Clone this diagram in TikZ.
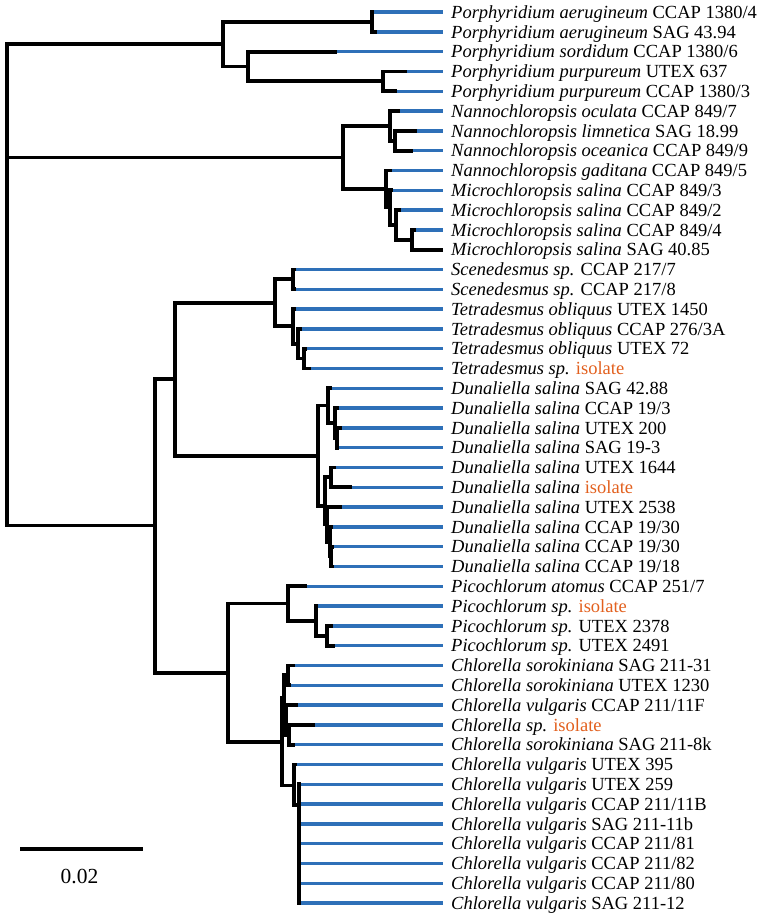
\documentclass[tikz,border=0pt]{standalone}
\usepackage{fontspec}
\setmainfont{Liberation Serif}
\definecolor{tipblue}{RGB}{46,112,184}
\definecolor{isoorange}{RGB}{226,96,30}
\tikzset{
  branch/.style={line width=3.8pt, line join=miter, line cap=butt, black},
  tipline/.style={line width=3.4pt, tipblue, line cap=butt},
  leaflabel/.style={anchor=base west, inner sep=0pt, font=\fontsize{18.5}{20}\selectfont},
  scalebar/.style={line width=4.2pt, line cap=butt},
  scalelabel/.style={anchor=base, inner sep=0pt, font=\fontsize{21.5}{24}\selectfont}
}
\newcommand\mkleaf[3]{%
  \coordinate (t#1) at (#2,{12+19.8*#1});
  \coordinate (e#1) at (443,{12+19.8*#1});
  \node[leaflabel] (l#1) at (451,{18.3+19.8*#1}) {#3};
}
\newcommand\iso{\textcolor{isoorange}{isolate}}
\begin{document}
\begin{tikzpicture}[x=1pt,y=-1pt]
\useasboundingbox (0,0) rectangle (765,924);
% leaves
\mkleaf{0}{374}{\textit{Porphyridium aerugineum} CCAP 1380/4}
\mkleaf{1}{377}{\textit{Porphyridium aerugineum} SAG 43.94}
\mkleaf{2}{337}{\textit{Porphyridium sordidum} CCAP 1380/6}
\mkleaf{3}{407}{\textit{Porphyridium purpureum} UTEX 637}
\mkleaf{4}{397}{\textit{Porphyridium purpureum} CCAP 1380/3}
\mkleaf{5}{400}{\textit{Nannochloropsis oculata} CCAP 849/7}
\mkleaf{6}{417}{\textit{Nannochloropsis limnetica} SAG 18.99}
\mkleaf{7}{413}{\textit{Nannochloropsis oceanica} CCAP 849/9}
\mkleaf{8}{392}{\textit{Nannochloropsis gaditana} CCAP 849/5}
\mkleaf{9}{393}{\textit{Microchloropsis salina} CCAP 849/3}
\mkleaf{10}{401}{\textit{Microchloropsis salina} CCAP 849/2}
\mkleaf{11}{416}{\textit{Microchloropsis salina} CCAP 849/4}
\mkleaf{12}{443}{\textit{Microchloropsis salina} SAG 40.85}
\mkleaf{13}{296}{\textit{Scenedesmus sp.} CCAP 217/7}
\mkleaf{14}{296}{\textit{Scenedesmus sp.} CCAP 217/8}
\mkleaf{15}{296}{\textit{Tetradesmus obliquus} UTEX 1450}
\mkleaf{16}{302}{\textit{Tetradesmus obliquus} CCAP 276/3A}
\mkleaf{17}{307}{\textit{Tetradesmus obliquus} UTEX 72}
\mkleaf{18}{311}{\textit{Tetradesmus sp.} \iso}
\mkleaf{19}{332}{\textit{Dunaliella salina} SAG 42.88}
\mkleaf{20}{339}{\textit{Dunaliella salina} CCAP 19/3}
\mkleaf{21}{342}{\textit{Dunaliella salina} UTEX 200}
\mkleaf{22}{339}{\textit{Dunaliella salina} SAG 19-3}
\mkleaf{23}{336}{\textit{Dunaliella salina} UTEX 1644}
\mkleaf{24}{352}{\textit{Dunaliella salina} \iso}
\mkleaf{25}{342}{\textit{Dunaliella salina} UTEX 2538}
\mkleaf{26}{333}{\textit{Dunaliella salina} CCAP 19/30}
\mkleaf{27}{334}{\textit{Dunaliella salina} CCAP 19/30}
\mkleaf{28}{334}{\textit{Dunaliella salina} CCAP 19/18}
\mkleaf{29}{307}{\textit{Picochlorum atomus} CCAP 251/7}
\mkleaf{30}{318}{\textit{Picochlorum sp.} \iso}
\mkleaf{31}{333}{\textit{Picochlorum sp.} UTEX 2378}
\mkleaf{32}{335}{\textit{Picochlorum sp.} UTEX 2491}
\mkleaf{33}{295}{\textit{Chlorella sorokiniana} SAG 211-31}
\mkleaf{34}{291}{\textit{Chlorella sorokiniana} UTEX 1230}
\mkleaf{35}{298}{\textit{Chlorella vulgaris} CCAP 211/11F}
\mkleaf{36}{315}{\textit{Chlorella sp.} \iso}
\mkleaf{37}{295}{\textit{Chlorella sorokiniana} SAG 211-8k}
\mkleaf{38}{297}{\textit{Chlorella vulgaris} UTEX 395}
\mkleaf{39}{301}{\textit{Chlorella vulgaris} UTEX 259}
\mkleaf{40}{301}{\textit{Chlorella vulgaris} CCAP 211/11B}
\mkleaf{41}{301}{\textit{Chlorella vulgaris} SAG 211-11b}
\mkleaf{42}{301}{\textit{Chlorella vulgaris} CCAP 211/81}
\mkleaf{43}{301}{\textit{Chlorella vulgaris} CCAP 211/82}
\mkleaf{44}{301}{\textit{Chlorella vulgaris} CCAP 211/80}
\mkleaf{45}{301}{\textit{Chlorella vulgaris} SAG 211-12}
% internal nodes
\coordinate (root) at (7,157.4);
\coordinate (P) at (223,44.2);
\coordinate (P1) at (372,21.9);
\coordinate (P2) at (248,66.45);
\coordinate (P3) at (383,81.3);
\coordinate (N) at (343,157.4);
\coordinate (N1) at (390,125.85);
\coordinate (N3) at (395,140.7);
\coordinate (NA) at (386,188.95);
\coordinate (NB) at (390,207.5);
\coordinate (NC) at (396,224.85);
\coordinate (ND) at (412,239.7);
\coordinate (G) at (155,525.4);
\coordinate (GA) at (175,379);
\coordinate (S) at (275,302.8);
\coordinate (S1) at (293,279.3);
\coordinate (S2) at (293,326.3);
\coordinate (S3) at (298,343.65);
\coordinate (S4) at (304,358.5);
\coordinate (Dn) at (318,456);
\coordinate (D1) at (328,405.5);
\coordinate (DE) at (335,422.85);
\coordinate (DF) at (337,437.7);
\coordinate (DG) at (325,506);
\coordinate (DH) at (331,477.3);
\coordinate (DI) at (327,524.3);
\coordinate (DJ) at (330,541.65);
\coordinate (DK) at (331,556.5);
\coordinate (GB) at (228,672.8);
\coordinate (Pc) at (288,603.5);
\coordinate (Pc1) at (316,620.85);
\coordinate (Pc2) at (327,635.7);
\coordinate (Ch) at (282,742);
\coordinate (CL) at (284,697.6);
\coordinate (CM) at (288,675.3);
\coordinate (CN) at (286,719.9);
\coordinate (CO) at (289,734.7);
\coordinate (CQ) at (294,785.5);
\coordinate (CP) at (299,805);
% blue tip extensions
\foreach \i in {0,...,45} \draw[tipline] (t\i) -- (e\i);
% branches
\draw[branch] (root) |- (P) (root) |- (N) (root) |- (G);
\draw[branch] (P) |- (P1) (P) |- (P2) (P1) |- (t0) (P1) |- (t1)
  (P2) |- (t2) (P2) |- (P3) (P3) |- (t3) (P3) |- (t4);
\draw[branch] (N) |- (N1) (N) |- (NA) (N1) |- (t5) (N1) |- (N3)
  (N3) |- (t6) (N3) |- (t7) (NA) |- (t8) (NA) |- (NB)
  (NB) |- (t9) (NB) |- (NC) (NC) |- (t10) (NC) |- (ND)
  (ND) |- (t11) (ND) |- (t12);
\draw[branch] (G) |- (GA) (G) |- (GB) (GA) |- (S) (GA) |- (Dn)
  (S) |- (S1) (S) |- (S2) (S1) |- (t13) (S1) |- (t14)
  (S2) |- (t15) (S2) |- (S3) (S3) |- (t16) (S3) |- (S4)
  (S4) |- (t17) (S4) |- (t18);
\draw[branch] (Dn) |- (D1) (Dn) |- (DG) (D1) |- (t19) (D1) |- (DE)
  (DE) |- (t20) (DE) |- (DF) (DF) |- (t21) (DF) |- (t22)
  (DG) |- (DH) (DG) |- (DI) (DH) |- (t23) (DH) |- (t24)
  (DI) |- (t25) (DI) |- (DJ) (DJ) |- (t26) (DJ) |- (DK)
  (DK) |- (t27) (DK) |- (t28);
\draw[branch] (GB) |- (Pc) (GB) |- (Ch) (Pc) |- (t29) (Pc) |- (Pc1)
  (Pc1) |- (t30) (Pc1) |- (Pc2) (Pc2) |- (t31) (Pc2) |- (t32);
\draw[branch] (Ch) |- (CL) (Ch) |- (CQ) (CL) |- (CM) (CL) |- (CN)
  (CM) |- (t33) (CM) |- (t34) (CN) |- (t35) (CN) |- (CO)
  (CO) |- (t36) (CO) |- (t37) (CQ) |- (t38) (CQ) |- (CP);
\foreach \i in {39,...,45} \draw[branch] (CP) |- (t\i);
% scale bar
\coordinate (sb1) at (20,849);
\coordinate (sb2) at (143,849);
\draw[scalebar] (sb1) -- (sb2);
\node[scalelabel] (sbl) at (79.5,883) {0.02};
\end{tikzpicture}
\end{document}
